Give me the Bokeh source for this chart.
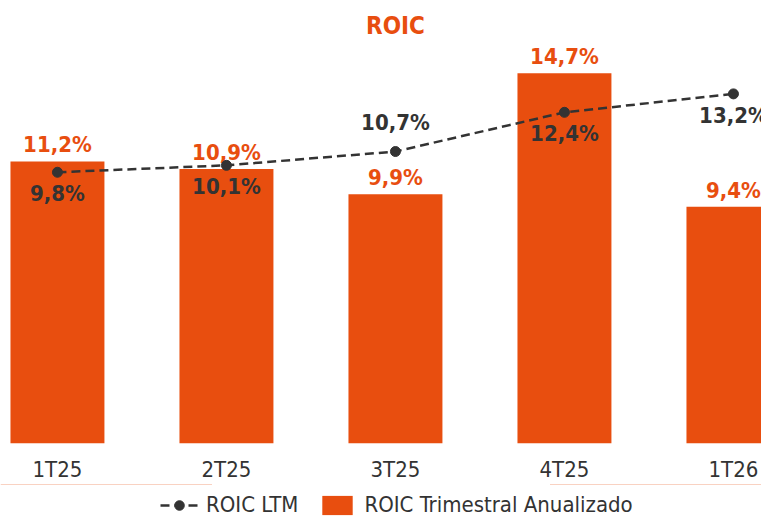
from bokeh.plotting import figure
from bokeh.layouts import column
from bokeh.models import Range1d, FixedTicker, Legend, LegendItem, ColumnDataSource, IndexFilter, CDSView
from bokeh.core.properties import value
from bokeh.embed import file_html
from bokeh.resources import INLINE

categories = ["1T25", "2T25", "3T25", "4T25", "1T26"]
roic_trimestral = [11.2, 10.9, 9.9, 14.7, 9.4]
roic_ltm = [9.8, 10.1, 10.7, 12.4, 13.2]
title_text = "ROIC"
series_names = ["ROIC LTM", "ROIC Trimestral Anualizado"]


def fmt(v):
    return f"{v:.1f}".replace(".", ",") + "%"


FONT = "DejaVu Sans Condensed"
ORANGE = "#E84E0F"
DARK = "#333333"

idx = list(range(len(categories)))
src = ColumnDataSource(dict(
    x=idx,
    bar=roic_trimestral,
    bar_lbl=[fmt(v) for v in roic_trimestral],
    ltm=roic_ltm,
    ltm_lbl=[fmt(v) for v in roic_ltm],
))

p = figure(frame_width=761, frame_height=443,
           output_backend="svg", toolbar_location=None,
           x_range=Range1d(-0.337, 4.166), y_range=Range1d(0, 17.59),
           y_axis_location=None,
           min_border_left=0, min_border_right=0, min_border_top=0, min_border_bottom=0)
p.extra_y_ranges = {"ltm": Range1d(-1.964, 17.25)}
p.outline_line_color = None
p.grid.visible = False
p.background_fill_color = "white"

bar_r = p.vbar(x="x", top="bar", width=0.556, source=src, fill_color=ORANGE, line_color=None)
p.text(x="x", y="bar", text="bar_lbl", source=src, text_align="center", text_baseline="bottom",
       y_offset=-4, text_font=value(FONT), text_font_size="22px", text_font_style="bold",
       text_color=ORANGE)

line_r = p.line(x="x", y="ltm", source=src, y_range_name="ltm", line_color=DARK,
                line_width=2.5, line_dash="9 5")
dot_r = p.scatter(x="x", y="ltm", source=src, y_range_name="ltm", size=10,
                  fill_color=DARK, line_color=DARK)

below_view = CDSView(filter=IndexFilter([0, 1, 3, 4]))
above_view = CDSView(filter=IndexFilter([2]))
p.text(x="x", y="ltm", text="ltm_lbl", source=src, view=below_view, y_range_name="ltm",
       text_align="center", text_baseline="top", y_offset=9,
       text_font=value(FONT), text_font_size="22px", text_font_style="bold", text_color=DARK)
p.text(x="x", y="ltm", text="ltm_lbl", source=src, view=above_view, y_range_name="ltm",
       text_align="center", text_baseline="bottom", y_offset=-17,
       text_font=value(FONT), text_font_size="22px", text_font_style="bold", text_color=DARK)

# title
p.text(x=[(len(categories) - 1) / 2], y=[16.56], text=[title_text], text_align="center",
       text_baseline="middle", text_font=value(FONT), text_font_size="24px",
       text_font_style="bold", text_color=ORANGE)

ax = p.xaxis[0]
ax.ticker = FixedTicker(ticks=idx)
ax.major_label_overrides = {i: c for i, c in enumerate(categories)}
ax.axis_line_color = None
ax.major_tick_line_color = None
ax.minor_tick_line_color = None
ax.major_label_text_font = FONT
ax.major_label_text_font_size = "22px"
ax.major_label_text_color = DARK
ax.major_label_standoff = 7

# legend strip below the chart (its renderers are drawn outside its visible range)
q = figure(frame_width=761, frame_height=34, output_backend="svg", toolbar_location=None,
           x_axis_location=None, y_axis_location=None,
           x_range=Range1d(0, 1), y_range=Range1d(-2, -1),
           min_border_left=0, min_border_right=0, min_border_top=0, min_border_bottom=0)
q.outline_line_color = None
q.grid.visible = False
lg_line = q.line(x="x", y="ltm", source=src, line_color=DARK, line_width=2.5, line_dash="9 5")
lg_dot = q.scatter(x="x", y="ltm", source=src, size=10, fill_color=DARK, line_color=DARK)
lg_bar = q.vbar(x="x", top="bar", width=0.556, source=src, fill_color=ORANGE, line_color=None)

legend = Legend(items=[LegendItem(label=series_names[0], renderers=[lg_line, lg_dot]),
                       LegendItem(label=series_names[1], renderers=[lg_bar])],
                orientation="horizontal", location=(160, 1),
                border_line_alpha=0, background_fill_alpha=0,
                label_text_font=FONT, label_text_font_size="22px", label_text_color=DARK,
                glyph_width=38, glyph_height=24, label_height=24, spacing=20, label_standoff=8,
                padding=0, margin=0)
q.add_layout(legend, "center")

layout = column(p, q, spacing=0)
open("out.html", "w").write(file_html(layout, INLINE))
